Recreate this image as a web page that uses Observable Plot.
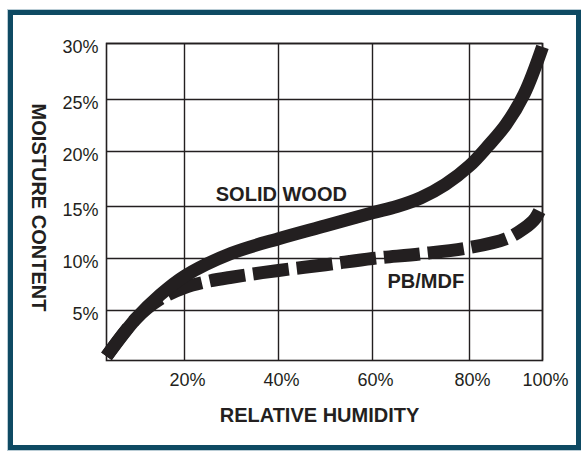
<!DOCTYPE html>
<html>
<head>
<meta charset="utf-8">
<script src="https://cdn.jsdelivr.net/npm/d3@7"></script>
<script src="https://cdn.jsdelivr.net/npm/@observablehq/plot@0.6"></script>
<style>
  html, body { margin: 0; padding: 0; background: #ffffff; }
  #wrap { position: relative; width: 581px; height: 455px; overflow: hidden; }
  #border { position: absolute; left: 8px; top: 10px; width: 573px; height: 440px; box-sizing: border-box;
            border: 5px solid #0e4a63; outline: 1px solid #b9ccd5; }
  #chart { position: absolute; left: 0; top: 0; }
</style>
</head>
<body>
<div id="wrap"><div id="border"></div><div id="chart"></div></div>
<script>
// Tick values (percent)
const xTicks = [20, 40, 60, 80, 100];
const yTicks = [5, 10, 15, 20, 25, 30];

// SOLID WOOD curve (relative humidity %, moisture content %)
const solidRH = [4, 10, 15, 20, 30, 40, 50, 60, 65, 70, 75, 80, 85, 90, 95, 100];
const solidMC = [0.6, 4.2, 6.5, 8.3, 10.5, 11.9, 13.15, 14.4, 15.0, 15.8, 17.0, 18.7, 20.5, 22.6, 25.5, 29.7];

// PB/MDF curve
const pbRH = [4, 10, 15, 20, 25, 30, 40, 50, 60, 70, 80, 90, 95, 98, 100];
const pbMC = [0.6, 4.2, 6.1, 7.2, 7.8, 8.2, 8.85, 9.4, 10.0, 10.45, 11.05, 11.9, 12.9, 13.85, 15.2];

// Curve labels
const labelText = ["SOLID WOOD", "PB/MDF"];
const labelRH = [40.6, 71.0];
const labelMC = [16.1, 7.8];

const solid = solidRH.map((x, i) => ({x, y: solidMC[i]}));
const pb = pbRH.map((x, i) => ({x, y: pbMC[i]}));
const labels = labelText.map((t, i) => ({t, x: labelRH[i], y: labelMC[i]}));

const ink = "#231f20";
const font = "Liberation Sans, Arial, Helvetica, sans-serif";

const chart = Plot.plot({
  width: 581,
  height: 455,
  marginLeft: 106,
  marginRight: 39,
  marginTop: 43,
  marginBottom: 95,
  style: { background: "transparent", fontFamily: font, color: ink },
  x: { type: "linear", domain: [4, 20, 40, 60, 80, 100], range: [106, 184, 278, 372, 469, 542] },
  y: { type: "linear", domain: [0.2, 5, 10, 15, 20, 25, 30], range: [360, 310, 258, 206, 151, 99, 43] },
  marks: [
    Plot.gridX(xTicks, { stroke: ink, strokeOpacity: 1, strokeWidth: 1.4 }),
    Plot.gridY(yTicks, { stroke: ink, strokeOpacity: 1, strokeWidth: 1.4 }),
    Plot.frame({ stroke: ink, strokeWidth: 1.6 }),
    Plot.axisX(xTicks, { tickSize: 0, tickPadding: 13, dx: 3, tickFormat: d => d + "%", fontSize: 18, fill: ink, label: null }),
    Plot.axisY(yTicks, { tickSize: 0, tickPadding: 8, dy: 4, tickFormat: d => d + "%", fontSize: 18, fill: ink, label: null }),
    Plot.line(pb, { x: "x", y: "y", curve: "catmull-rom", stroke: ink, strokeWidth: 13, strokeLinecap: "butt", strokeDasharray: "36,8" }),
    Plot.line(solid, { x: "x", y: "y", curve: "catmull-rom", stroke: ink, strokeWidth: 13, strokeLinecap: "butt" }),
    Plot.text(labels, { x: "x", y: "y", text: "t", fontSize: 20, fontWeight: "bold", fill: ink, fontFamily: font }),
    Plot.text(["MOISTURE CONTENT"], { frameAnchor: "left", textAnchor: "middle", lineAnchor: "middle", dx: -68, dy: 5.5, rotate: 90, fontSize: 20, fontWeight: "bold", fill: ink, fontFamily: font }),
    Plot.text(["RELATIVE HUMIDITY"], { frameAnchor: "bottom", textAnchor: "middle", lineAnchor: "middle", dx: -5, dy: 55, fontSize: 20, fontWeight: "bold", fill: ink, fontFamily: font })
  ]
});
document.getElementById("chart").appendChild(chart);
</script>
</body>
</html>
